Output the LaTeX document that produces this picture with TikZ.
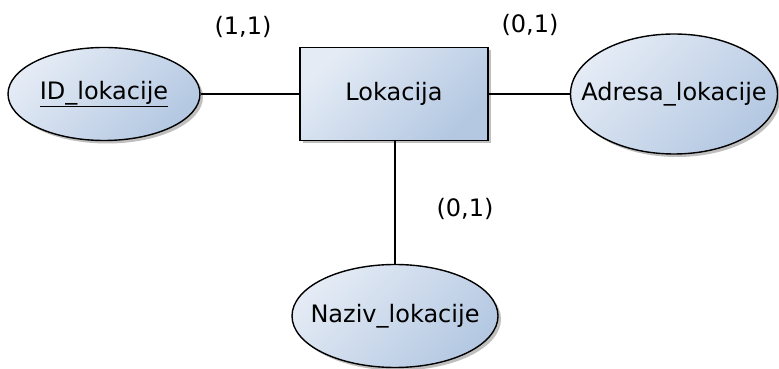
\documentclass[tikz,border=0pt]{standalone}
\usepackage{fontspec}
\setmainfont{DejaVu Sans}
\usetikzlibrary{shapes.geometric,shadows}

\definecolor{erlight}{HTML}{E4EBF5}
\definecolor{erdark}{HTML}{B4C8E2}

\tikzset{
    erfill/.style={top color=erlight, bottom color=erdark, shading angle=45,
        draw, line width=1.4pt,
        drop shadow={shadow xshift=3pt, shadow yshift=-3pt, opacity=0.25, fill=black}},
    entitet/.style={erfill, rectangle, minimum width=188pt, minimum height=93pt, inner sep=0pt},
    atribut/.style={erfill, ellipse, inner sep=0pt},
    veza/.style={line width=1.4pt},
}

\begin{document}
\begin{tikzpicture}[x=1pt,y=1pt,font=\fontsize{24}{28}\selectfont]
        \useasboundingbox (0,0) rectangle (779,369);
        \node[entitet] (lok) at (394,275) {Lokacija};
        \node[atribut, minimum width=192pt, minimum height=93pt,
            label=center:{\underline{ID\_lokacije}}] (id) at (104,275) {};
        \node[atribut, minimum width=207pt, minimum height=120pt,
            label=center:{Adresa\_lokacije}] (adr) at (674,275) {};
        \node[atribut, minimum width=206pt, minimum height=103pt,
            label=center:{Naziv\_lokacije}] (naz) at (395,53) {};
        \draw[veza] (id) -- (lok);
        \draw[veza] (lok) -- (adr);
        \draw[veza] (lok.south -| naz.north) -- (naz.north);
        \node (k1) at (243,342) {(1,1)};
        \node (k2) at (530,344) {(0,1)};
        \node (k3) at (465,160) {(0,1)};
    \end{tikzpicture}
\end{document}
